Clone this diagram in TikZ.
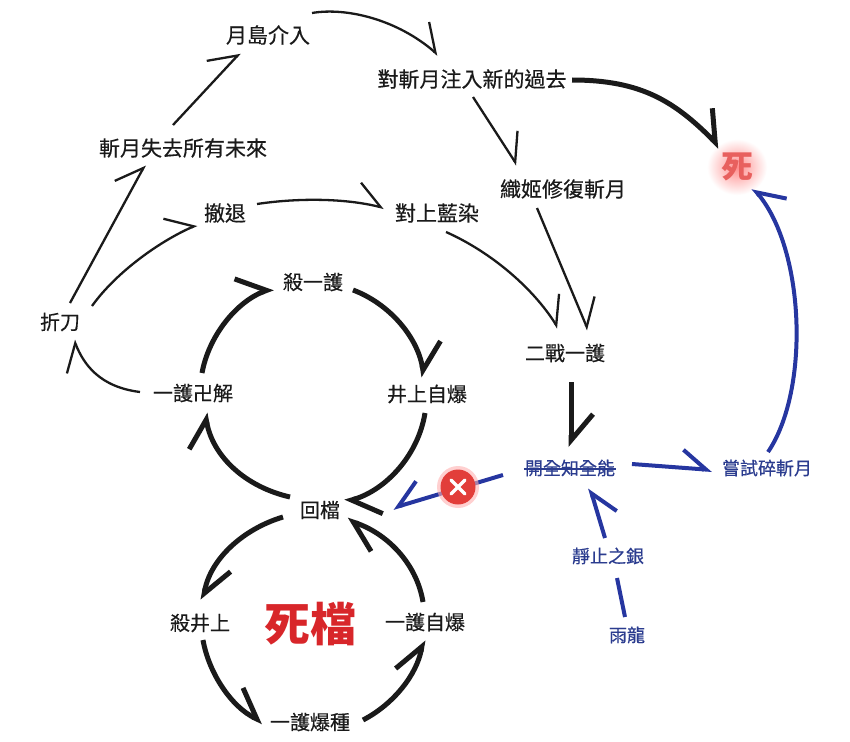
\documentclass[tikz,border=0pt]{standalone}
\usepackage{fontspec}
\newfontfamily\cjk{Noto Sans CJK TC}[FakeBold=0.4]
\newfontfamily\cjkb{Noto Sans CJK TC}
\usetikzlibrary{arrows.meta,calc}
\definecolor{ink}{HTML}{1A1A1A}
\definecolor{bl}{HTML}{2636A0}
\definecolor{bltxt}{HTML}{2B3C8F}
\definecolor{dred}{HTML}{D8262A}
\definecolor{lred}{HTML}{E8605E}
\definecolor{xred}{HTML}{E23E3A}
\begin{document}
\begin{tikzpicture}[x=1pt,y=-1pt,
  lbl/.style={font=\cjk\fontsize{21}{24}\selectfont, text=ink, inner sep=0pt},
  lbs/.style={font=\cjk\fontsize{20}{24}\selectfont, text=ink, inner sep=0pt},
  lbb/.style={font=\cjk\fontsize{18}{22}\selectfont, text=bltxt, inner sep=0pt},
  thinln/.style={draw=ink, line width=2.3pt},
  thickln/.style={draw=ink, line width=5pt},
  blu/.style={draw=bl, line width=4pt},
  tl/.style={-{Straight Barb[harpoon,length=25pt,width=38pt]}},
  tk/.style={-{Straight Barb[harpoon,length=26pt,width=44pt]}},
  tr/.style={-{Straight Barb[harpoon,swap,length=24pt,width=38pt]}},
  tlb/.style={-{Straight Barb[harpoon,length=24pt,width=36pt]}},
]
\fill[white] (0,0) rectangle (850,741);
\useasboundingbox (0,0) rectangle (850,741);

% glow behind 死
\shade[inner color=red!45, outer color=white] (737,167) ellipse (30pt and 28pt);

% nodes
\node[lbl] (A) at (268,35) {月島介入};
\node[lbl] (B) at (472,79) {對斬月注入新的過去};
\node[lbl] (C) at (183,148) {斬月失去所有未來};
\node[lbl] (D) at (225,213) {撤退};
\node[lbl] (E) at (437,213) {對上藍染};
\node[lbl] (F) at (563,189) {織姬修復斬月};
\node[font=\cjkb\bfseries\fontsize{32}{34}\selectfont, text=lred, inner sep=0pt] (G) at (737,167) {死};
\node[lbs] (H) at (313,282) {殺一護};
\node[lbs] (I) at (60,322) {折刀};
\node[lbs] (J) at (193,393) {一護卍解};
\node[lbs] (K) at (427,394) {井上自爆};
\node[lbs] (L) at (565,353) {二戰一護};
\node[lbb] (M) at (570,468) {開全知全能};
\node[lbb] (N) at (767,468) {嘗試碎斬月};
\node[lbs] (O) at (320,510) {回檔};
\node[lbb] (P) at (608,556) {靜止之銀};
\node[lbb] (Q) at (627,635) {雨龍};
\node[lbs] (R) at (200,623) {殺井上};
\node[font=\cjkb\bfseries\fontsize{46}{48}\selectfont, text=dred, inner sep=0pt] (S) at (310,624) {死檔};
\node[lbs] (T) at (425,622) {一護自爆};
\node[lbs] (U) at (310,722) {一護爆種};

% strike through
\draw[bltxt, line width=1.3pt] ($(M.west)+(-1,1)$) -- ($(M.east)+(1,1)$);

% upper black connectors
\draw[thinln,tl] ($(I)+(10,-19)$) -- ($(C)+(-38,17)$);
\draw[thinln,tl] ($(C)+(-10,-23)$) -- ($(A)+(-28,18)$);
\draw[thinln,tl] ($(A)+(44,-22)$) .. controls +(35,-6) and +(-40,-35) .. ($(B)+(-34,-24)$);
\draw[thickln,tk] ($(B)+(100,1)$) .. controls +(70,0) and +(-45,-45) .. ($(G)+(-17,-20)$);
\draw[thinln,tl] ($(B)+(1,18)$) -- ($(F)+(-46,-24)$);
\draw[thinln,tl] ($(D)+(32,-9)$) .. controls +(40,-6) and +(-40,-10) .. ($(E)+(-53,-5)$);
\draw[thinln,tl] ($(I)+(32,-16)$) .. controls +(25,-35) and +(-35,15) .. ($(D)+(-28,12)$);
\draw[thinln,tl] ($(E)+(9,19)$) .. controls +(45,20) and +(-25,-40) .. ($(L)+(-7,-25)$);
\draw[thinln,tl] ($(F)+(-26,19)$) -- ($(L)+(23,-23)$);
\draw[thickln,tk] ($(L)+(6,29)$) -- ($(M)+(1,-21)$);
\draw[thinln,tl] ($(J)+(-53,-1)$) .. controls +(-40,-5) and +(10,25) .. ($(I)+(14,18)$);

% top loop
\draw[thickln,tk] ($(J)+(9,-20)$) .. controls +(7,-38) and +(-36,13.5) .. ($(H)+(-40,6)$);
\draw[thickln,tk] ($(H)+(40,8)$) .. controls +(37,14) and +(-6.4,-39.5) .. ($(K)+(-3,-17)$);
\draw[thickln,tk] ($(K)+(-2,19)$) .. controls +(-6.8,42.3) and +(41,-12.3) .. ($(O)+(25,-8)$);
\draw[thickln,tk] ($(O)+(-30,-13)$) .. controls +(-44,-10) and +(8,44) .. ($(J)+(12,20)$);

% bottom loop
\draw[thickln,tk] ($(O)+(-37,7)$) .. controls +(-40,12) and +(7.5,-41) .. ($(R)+(3,-23)$);
\draw[thickln,tk] ($(R)+(3,17)$) .. controls +(6,34) and +(-31,-15) .. ($(U)+(-47,0)$);
\draw[thickln,tk] ($(U)+(53,-2)$) .. controls +(31,-16) and +(-6,34) .. ($(T)+(-2,18)$);
\draw[thickln,tk] ($(T)+(-2,-20)$) .. controls +(-6.6,-40) and +(38.6,13) .. ($(O)+(27,10)$);

% blue connectors
\draw[blu,tr] ($(M)+(-67,7)$) -- ($(O)+(73,-2)$);
\draw[blu,tlb] ($(M)+(62,-4)$) -- ($(N)+(-55,2)$);
\draw[blu] ($(Q)+(-2,-18)$) -- ($(P)+(9,22)$);
\draw[blu,tr] ($(P)+(-3,-18)$) -- ($(M)+(20,20)$);
\draw[blu,tr] ($(N)+(1,-16)$) .. controls +(42,-62) and +(52,62) .. ($(G)+(16,21)$);

% X mark
\fill[red!30, opacity=0.6] (458,487) circle (21pt);
\node[circle, fill=xred, minimum size=35pt, inner sep=0pt] (X) at (458,487) {};
\draw[white, line width=3.5pt, line cap=round] ($(X)+(-7,-7)$) -- ($(X)+(7,7)$);
\draw[white, line width=3.5pt, line cap=round] ($(X)+(-7,7)$) -- ($(X)+(7,-7)$);
\end{tikzpicture}
\end{document}
